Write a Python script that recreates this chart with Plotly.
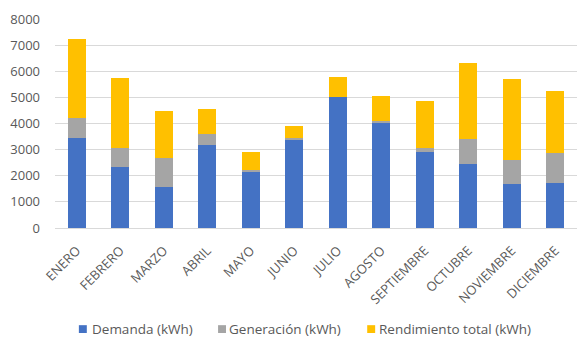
import plotly.graph_objects as go

meses = ["ENERO", "FEBRERO", "MARZO", "ABRIL", "MAYO", "JUNIO", "JULIO",
         "AGOSTO", "SEPTIEMBRE", "OCTUBRE", "NOVIEMBRE", "DICIEMBRE"]
demanda = [3450, 2320, 1570, 3180, 2130, 3400, 5000, 4030, 2910, 2460, 1690, 1720]
generacion = [770, 750, 1110, 410, 80, 40, 0, 70, 150, 940, 920, 1140]
rendimiento = [3010, 2690, 1800, 960, 700, 480, 790, 970, 1800, 2920, 3110, 2400]

series = [
    ("Demanda (kWh)", demanda, "#4472C4"),
    ("Generación (kWh)", generacion, "#A5A5A5"),
    ("Rendimiento total (kWh)", rendimiento, "#FFC000"),
]

font_family = "Open Sans"
txt = "#595959"

W, H = 587, 347
ML, MR, MT, MB = 52, 10, 14, 119
pw, ph = W - ML - MR, H - MT - MB


def px_x(x):
    return (x - ML) / pw


def px_y(y):
    return (H - MB - y) / ph


fig = go.Figure()
for name, vals, color in series:
    fig.add_bar(x=meses, y=vals, name=name, marker_color=color,
                marker_line_width=0, showlegend=False)

# legend drawn along the bottom: small square swatch followed by its label
legend_pos = [(76, 87), (216, 225), (366, 376)]
legend_y = 331.5
shapes, annotations = [], []
for (name, _, color), (sx, tx) in zip(series, legend_pos):
    shapes.append(dict(type="rect", xref="paper", yref="paper",
                       x0=px_x(sx), x1=px_x(sx + 8),
                       y0=px_y(legend_y + 4), y1=px_y(legend_y - 4),
                       fillcolor=color, line_width=0))
    annotations.append(dict(text=name, xref="paper", yref="paper",
                            x=px_x(tx), y=px_y(legend_y), xanchor="left",
                            yanchor="middle", showarrow=False,
                            font=dict(size=13.5, color=txt, family=font_family)))

fig.update_layout(
    barmode="stack",
    bargap=0.59,
    width=W, height=H,
    margin=dict(l=ML, r=MR, t=MT, b=MB),
    paper_bgcolor="white", plot_bgcolor="white",
    font=dict(family=font_family, size=13, color=txt),
    shapes=shapes,
    annotations=annotations,
    xaxis=dict(tickangle=-45, showgrid=False, showline=True, linecolor="#d9d9d9",
               linewidth=1, ticks="", tickfont=dict(size=13, color=txt),
               ticklabelstandoff=9),
    yaxis=dict(range=[0, 8000], dtick=1000, showgrid=True, gridcolor="#d9d9d9",
               gridwidth=1, zeroline=False, ticks="", tickfont=dict(size=13, color=txt),
               ticklabelstandoff=14),
)

fig.write_html("out.html")
